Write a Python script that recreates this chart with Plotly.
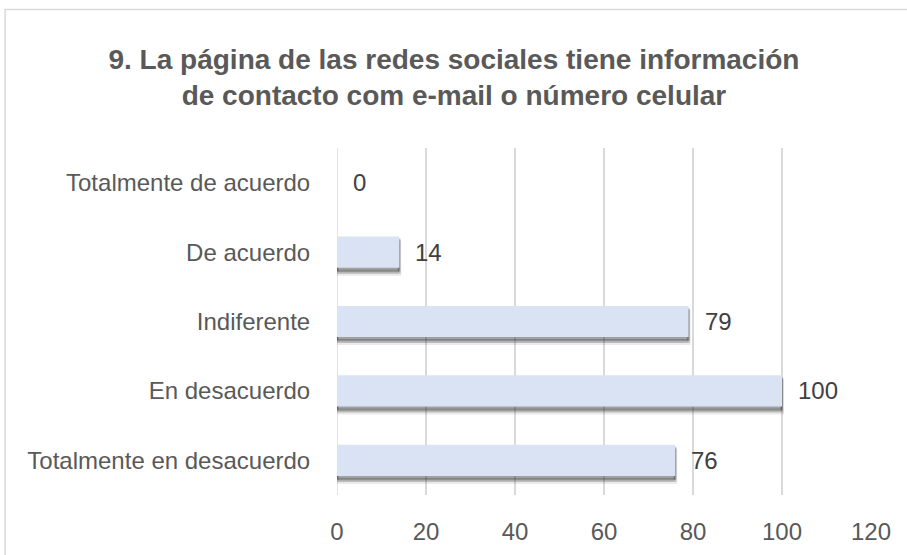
import plotly.graph_objects as go

categories = ["Totalmente de acuerdo", "De acuerdo", "Indiferente", "En desacuerdo", "Totalmente en desacuerdo"]
values = [0, 14, 79, 100, 76]
x_ticks = [0, 20, 40, 60, 80, 100, 120]
title_text = "9. La página de las redes sociales tiene información<br>de contacto com e-mail o número celular"

FONT = "Liberation Sans, Arial, sans-serif"
W, H = 907, 555
L = 336.5
T = 148
R = W - 870.7
B = H - 495
pw, ph = W - L - R, H - T - B
row_px = ph / len(categories)

fig = go.Figure()
# soft shadow layers
for dy, a, lw in [(6, 0.10, 4), (4.5, 0.16, 3), (3, 0.28, 2)]:
    fig.add_trace(go.Bar(
        y=categories, x=values, orientation="h",
        marker=dict(color=f"rgba(50,50,50,{a})",
                    line=dict(color=f"rgba(50,50,50,{a})", width=[lw if v > 0 else 0 for v in values])),
        width=0.45, offset=-0.225 - dy / row_px, hoverinfo="skip", showlegend=False,
    ))
fig.add_trace(go.Bar(
    y=categories, x=values, orientation="h",
    marker=dict(color="#DAE3F3", line=dict(width=0)),
    width=0.45, offset=-0.225, showlegend=False,
))
for c, v in zip(categories, values):
    fig.add_annotation(x=v, y=c, xref="x", yref="y", text=str(v), showarrow=False,
                       xanchor="left", yanchor="middle", xshift=14,
                       font=dict(family=FONT, size=24, color="#404040"))

fig.update_layout(
    width=W, height=H,
    margin=dict(l=L, r=R, t=T, b=B, autoexpand=False),
    barmode="overlay",
    plot_bgcolor="white", paper_bgcolor="white",
    title=dict(text=title_text, x=(453.5 - L) / pw, xanchor="center", xref="paper",
               y=1 - 69 / H, yanchor="middle", yref="container",
               font=dict(family=FONT, size=28, color="#595959", weight="bold")),
    font=dict(family=FONT, size=24, color="#595959"),
)
fig.update_xaxes(range=[0, 120], tickvals=x_ticks, showgrid=True, gridcolor="#D9D9D9", gridwidth=1.5,
                 zeroline=False, showline=False, ticks="outside", ticklen=15, tickcolor="rgba(0,0,0,0)",
                 tickfont=dict(family=FONT, size=24, color="#595959"), fixedrange=True)
fig.update_yaxes(categoryorder="array", categoryarray=categories[::-1], showgrid=False, zeroline=False,
                 ticks="outside", ticklen=21, tickcolor="rgba(0,0,0,0)",
                 tickfont=dict(family=FONT, size=24, color="#595959"), range=[-0.5, 4.5])
fig.add_shape(type="line", xref="x", yref="paper", x0=0, x1=0, y0=0, y1=1,
              line=dict(color="#D9D9D9", width=1.5), layer="below")
# outer chart border
fig.add_shape(type="rect", xref="paper", yref="paper",
              x0=(4.5 - L) / pw, x1=(W + 30 - L) / pw,
              y0=-(B + 30) / ph, y1=(H - 9.5 - B) / ph,
              line=dict(color="#D9D9D9", width=1.5), layer="below")
fig.write_html("out.html", config={"displayModeBar": False},
               post_script="document.body.style.margin='0';document.body.style.overflow='hidden';")
